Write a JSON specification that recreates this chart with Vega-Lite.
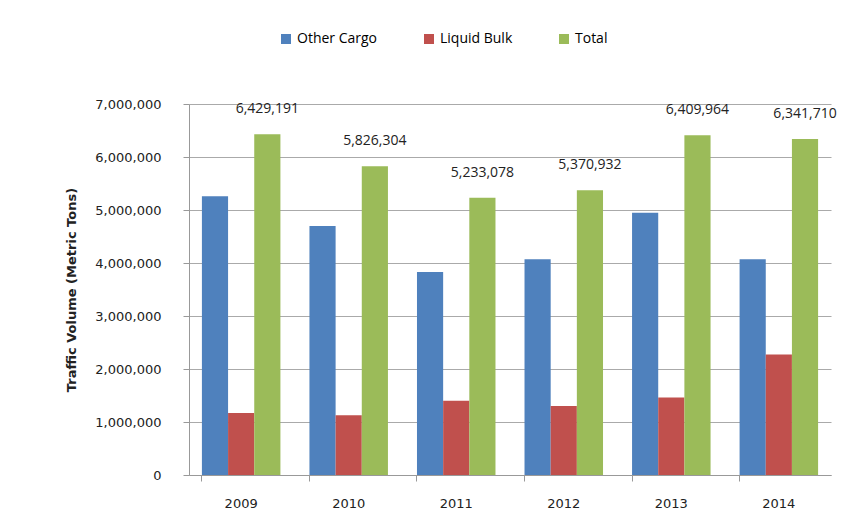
{
  "$schema": "https://vega.github.io/schema/vega-lite/v6.json",
  "autosize": "none",
  "width": 642,
  "height": 371,
  "padding": {"left": 189, "top": 104, "right": 36, "bottom": 53},
  "background": "white",
  "config": {
    "font": "Open Sans",
    "view": {"stroke": null},
    "axis": {"labelFont": "DejaVu Sans", "titleFont": "DejaVu Sans", "labelColor": "#222", "titleColor": "#222"}
  },
  "data": {
    "values": [
      {"year": "2009", "series": "Other Cargo", "value": 5260000},
      {"year": "2009", "series": "Liquid Bulk", "value": 1169191},
      {"year": "2009", "series": "Total", "value": 6429191},
      {"year": "2010", "series": "Other Cargo", "value": 4700000},
      {"year": "2010", "series": "Liquid Bulk", "value": 1126304},
      {"year": "2010", "series": "Total", "value": 5826304},
      {"year": "2011", "series": "Other Cargo", "value": 3830000},
      {"year": "2011", "series": "Liquid Bulk", "value": 1403078},
      {"year": "2011", "series": "Total", "value": 5233078},
      {"year": "2012", "series": "Other Cargo", "value": 4070000},
      {"year": "2012", "series": "Liquid Bulk", "value": 1300932},
      {"year": "2012", "series": "Total", "value": 5370932},
      {"year": "2013", "series": "Other Cargo", "value": 4950000},
      {"year": "2013", "series": "Liquid Bulk", "value": 1459964},
      {"year": "2013", "series": "Total", "value": 6409964},
      {"year": "2014", "series": "Other Cargo", "value": 4070000},
      {"year": "2014", "series": "Liquid Bulk", "value": 2271710},
      {"year": "2014", "series": "Total", "value": 6341710}
    ]
  },
  "encoding": {
    "x": {
      "field": "year", "type": "nominal",
      "scale": {"paddingInner": 0.27, "paddingOuter": 0.12},
      "axis": {"title": null, "labelAngle": 0, "labelFontSize": 13, "labelPadding": 16, "domainColor": "#999", "tickColor": "#999", "tickSize": 6, "bandPosition": 0, "ticks": true}
    },
    "xOffset": {"field": "series", "type": "nominal", "sort": ["Other Cargo", "Liquid Bulk", "Total"]},
    "y": {
      "field": "value", "type": "quantitative",
      "scale": {"domain": [0, 7000000]},
      "axis": {"title": "Traffic Volume (Metric Tons)", "titleFontSize": 13, "titleFontWeight": "bold", "titlePadding": 16, "labelFontSize": 13, "format": ",d", "values": [0,1000000,2000000,3000000,4000000,5000000,6000000,7000000], "gridColor": "#aaa", "gridWidth": 1.2, "domainColor": "#999", "tickColor": "#999", "tickSize": 6, "labelPadding": 22}
    }
  },
  "layer": [
    {
      "mark": {"type": "bar", "stroke": null},
      "encoding": {
        "color": {
          "field": "series", "type": "nominal",
          "sort": ["Other Cargo", "Liquid Bulk", "Total"],
          "scale": {"domain": ["Other Cargo", "Liquid Bulk", "Total"], "range": ["#4F81BD", "#C0504D", "#9BBB59"]},
          "legend": {"title": null, "orient": "none", "legendX": 90, "legendY": -72, "direction": "horizontal", "symbolType": "square", "symbolSize": 100, "labelFontSize": 14, "columnPadding": 44, "symbolStrokeWidth": 0}
        }
      }
    },
    {
      "transform": [{"filter": "datum.series === 'Total'"}],
      "mark": {"type": "text", "dy": -18, "fontSize": 14, "color": "#222", "baseline": "bottom"},
      "encoding": {"text": {"field": "value", "type": "quantitative", "format": ",d"}}
    }
  ]
}
